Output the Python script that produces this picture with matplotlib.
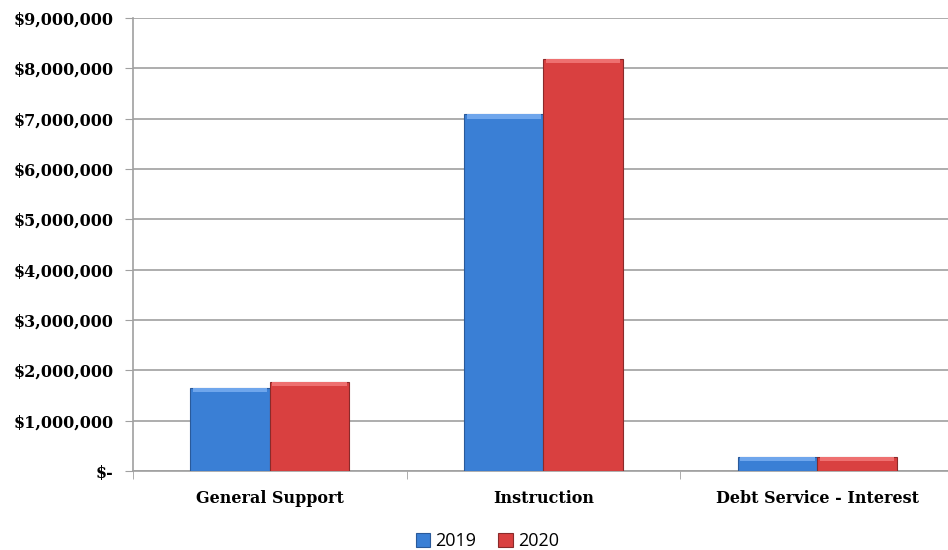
import numpy as np
import matplotlib.pyplot as plt
from matplotlib.ticker import FuncFormatter, MultipleLocator

categories = ["General Support", "Instruction", "Debt Service - Interest"]
years = ["2019", "2020"]
values_2019 = [1650000, 7090000, 280000]
values_2020 = [1770000, 8190000, 280000]

blue = "#3a7fd5"
red = "#d94040"

fig = plt.figure(figsize=(9.48, 5.5), dpi=100)
ax = fig.add_axes([0.1403, 0.1436, 0.866, 0.8237])

x = np.arange(len(categories))
w = 0.29
b1 = ax.bar(x - w / 2, values_2019, w, color=blue, edgecolor="#2a5a9a", linewidth=0.8,
            label=years[0], zorder=3)
b2 = ax.bar(x + w / 2, values_2020, w, color=red, edgecolor="#8a2a2a", linewidth=0.8,
            label=years[1], zorder=3)

# light bevel on the bar tops
for bars, hl in ((b1, "#6fa6ec"), (b2, "#ee7070")):
    for r in bars:
        h = r.get_height()
        ax.bar(r.get_x() + r.get_width() / 2, min(90000, h * 0.3), r.get_width() * 0.94,
               bottom=h - min(90000, h * 0.3), color=hl, linewidth=0, zorder=4)

ax.set_xlim(-0.5, 2.5)
ax.set_ylim(0, 9000000)
ax.yaxis.set_major_locator(MultipleLocator(1000000))


def money(v, pos):
    if v == 0:
        return "$-"
    return "${:,.0f}".format(v)


ax.yaxis.set_major_formatter(FuncFormatter(money))
ax.grid(axis="y", color="#a0a0a0", lw=1.2, zorder=0)

ax.set_xticks(x)
ax.set_xticklabels(categories)
ax.set_xticks([-0.5, 0.5, 1.5, 2.5], minor=True)
ax.tick_params(axis="x", which="major", length=0, pad=14)
ax.tick_params(axis="x", which="minor", length=6, color="#a0a0a0")
ax.tick_params(axis="y", length=6, color="#a0a0a0", pad=8)

for lab in ax.get_xticklabels() + ax.get_yticklabels():
    lab.set_fontfamily("DejaVu Serif")
    lab.set_fontweight("bold")
    lab.set_fontsize(11.5)

for s in ["top", "right"]:
    ax.spines[s].set_visible(False)
ax.spines["left"].set_color("#a0a0a0")
ax.spines["bottom"].set_color("#a0a0a0")
ax.spines["left"].set_linewidth(1.2)
ax.spines["bottom"].set_linewidth(1.2)

fig.legend(handles=[b1, b2], labels=years, loc="lower center", ncol=2,
           bbox_to_anchor=(0.514, -0.03), frameon=False, handlelength=0.8,
           handleheight=0.8, handletextpad=0.3, columnspacing=1.2,
           prop={"family": "Open Sans", "size": 13})

fig.savefig("out.png", dpi=100)
